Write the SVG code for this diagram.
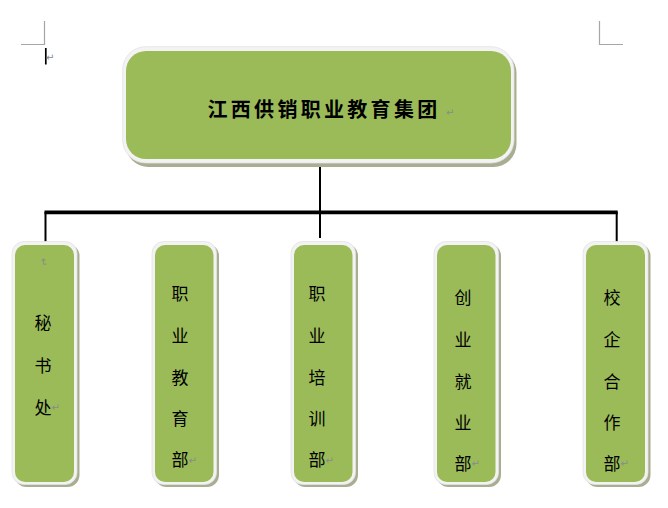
<svg xmlns="http://www.w3.org/2000/svg" width="668" height="508" viewBox="0 0 668 508">
<style>
.shadow{fill:#a9ad92}
.frame{fill:#f3f3f3;stroke:#e2e2e2;stroke-width:0.8}
.green{fill:#9bbb59}
.title{font-family:"Noto Sans CJK SC","Noto Sans CJK JP",sans-serif;font-size:20px;font-weight:bold;fill:#000;letter-spacing:3.3px}
.ch{font-family:"Noto Sans CJK SC","Noto Sans CJK JP",sans-serif;font-size:17px;fill:#000;text-anchor:middle;dominant-baseline:central}
.ret{font-family:"DejaVu Sans",sans-serif;font-size:10px;fill:#8a8a8a;dominant-baseline:central}
.mark{stroke:#a6a6a6;stroke-width:1.2;fill:none}
.conn{stroke:#000;fill:none}
</style>
<rect width="668" height="508" fill="#fff"/>
<g id="page-marks">
<path class="mark" d="M44.5 21V44.5H21"/>
<path class="mark" d="M599.5 21V44.5H623"/>
<line x1="45.8" y1="48" x2="45.8" y2="64.5" stroke="#000" stroke-width="1.7"/>
<text class="ret" x="46" y="57">↵</text>
</g>
<g id="connectors">
<line class="conn" x1="320" y1="165" x2="320" y2="238" stroke-width="2"/>
<line class="conn" x1="44.5" y1="212.3" x2="617.7" y2="212.3" stroke-width="3.8"/>
<line class="conn" x1="45.5" y1="212" x2="45.5" y2="244" stroke-width="2"/>
<line class="conn" x1="616.7" y1="212" x2="616.7" y2="243" stroke-width="2"/>
</g>
<g id="root">
<rect class="shadow" x="125.5" y="50" width="391" height="117" rx="23"/>
<rect class="frame" x="122.7" y="46.7" width="391.3" height="116.3" rx="23"/>
<rect class="green" x="126" y="51" width="385" height="108" rx="20"/>
<text class="title" x="207.5" y="108.5" dominant-baseline="central">江西供销职业教育集团</text>
<text class="ret" x="446" y="112">↵</text>
</g>
<g id="node-1">
<rect class="shadow" x="14.5" y="244" width="65" height="243" rx="12"/>
<rect class="frame" x="12" y="241.5" width="65" height="243" rx="12"/>
<rect class="green" x="15" y="245" width="59" height="237" rx="10"/>
<text class="ret" x="0" y="0" transform="translate(43,262) rotate(90)" text-anchor="middle">↵</text>
<text class="ch" x="43" y="321">秘</text>
<text class="ch" x="43" y="364">书</text>
<text class="ch" x="43" y="406">处</text>
<text class="ret" x="51.5" y="407">↵</text>
</g>
<g id="node-2">
<rect class="shadow" x="154.5" y="244" width="64.5" height="243" rx="12"/>
<rect class="frame" x="152" y="241.5" width="64.5" height="243" rx="12"/>
<rect class="green" x="155" y="245" width="58.5" height="237" rx="10"/>
<text class="ch" x="180" y="292">职</text>
<text class="ch" x="180" y="334">业</text>
<text class="ch" x="180" y="376.5">教</text>
<text class="ch" x="180" y="417">育</text>
<text class="ch" x="180" y="458.5">部</text>
<text class="ret" x="188.5" y="460">↵</text>
</g>
<g id="node-3">
<rect class="shadow" x="293.5" y="244" width="64.5" height="243" rx="12"/>
<rect class="frame" x="291" y="241.5" width="64.5" height="243" rx="12"/>
<rect class="green" x="294" y="245" width="58.5" height="237" rx="10"/>
<text class="ch" x="317" y="292">职</text>
<text class="ch" x="317" y="334">业</text>
<text class="ch" x="317" y="376.5">培</text>
<text class="ch" x="317" y="417">训</text>
<text class="ch" x="317" y="458.5">部</text>
<text class="ret" x="325.5" y="460">↵</text>
</g>
<g id="node-4">
<rect class="shadow" x="436.5" y="244" width="64.5" height="243" rx="12"/>
<rect class="frame" x="434" y="241.5" width="64.5" height="243" rx="12"/>
<rect class="green" x="437" y="245" width="58.5" height="237" rx="10"/>
<text class="ch" x="463" y="296">创</text>
<text class="ch" x="463" y="338">业</text>
<text class="ch" x="463" y="380.5">就</text>
<text class="ch" x="463" y="421">业</text>
<text class="ch" x="463" y="462">部</text>
<text class="ret" x="471.5" y="463">↵</text>
</g>
<g id="node-5">
<rect class="shadow" x="585.5" y="244" width="65" height="243" rx="12"/>
<rect class="frame" x="583" y="241.5" width="65" height="243" rx="12"/>
<rect class="green" x="586" y="245" width="59" height="237" rx="10"/>
<text class="ch" x="612" y="296">校</text>
<text class="ch" x="612" y="338">企</text>
<text class="ch" x="612" y="380.5">合</text>
<text class="ch" x="612" y="421">作</text>
<text class="ch" x="612" y="462">部</text>
<text class="ret" x="620.5" y="463">↵</text>
</g>
</svg>
